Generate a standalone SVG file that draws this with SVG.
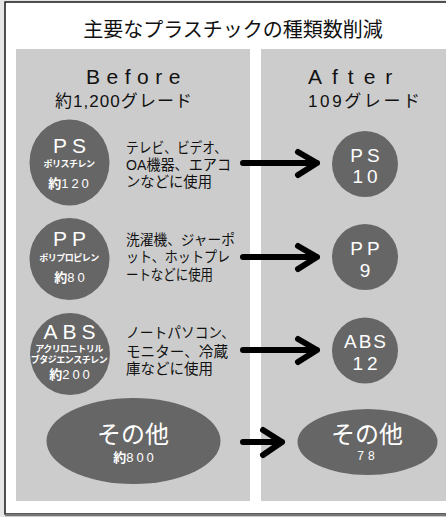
<svg xmlns="http://www.w3.org/2000/svg" width="446" height="517" viewBox="0 0 446 517">
<defs>
<style>
text{font-family:"Liberation Sans","Noto Sans CJK JP",sans-serif;}
.panel{fill:#cccccc;}
.node{fill:#666666;}
.w{fill:#ffffff;text-anchor:middle;}
.big{font-size:21px;letter-spacing:5px;}
.sm{font-size:9px;font-weight:bold;letter-spacing:-0.5px;}
.num{font-size:13px;letter-spacing:3px;}
.desc{font-size:14.5px;fill:#111111;}
.hd{font-size:21px;fill:#111111;}
.sub{font-size:17px;fill:#111111;}
.arr{fill:none;stroke:#000000;stroke-width:6;stroke-linecap:round;stroke-linejoin:round;}
</style>
</defs>
<rect x="0" y="0" width="446" height="517" fill="#e6e6e6"/>
<rect x="5" y="2" width="445" height="512" fill="#ffffff" stroke="#1a1a1a" stroke-width="1.5"/>
<line x1="5" y1="515" x2="446" y2="515" stroke="#777777" stroke-width="2.5"/>
<text x="233" y="37" font-size="20" fill="#111111" text-anchor="middle">主要なプラスチックの種類数削減</text>
<rect class="panel" x="16" y="49" width="234" height="452"/>
<rect class="panel" x="261" y="49" width="185" height="452"/>
<text class="hd" x="86" y="84" letter-spacing="6.5">Before</text>
<text class="sub" x="55" y="107" textLength="137" lengthAdjust="spacing">約1,200グレード</text>
<text class="hd" x="308" y="84" font-size="22" letter-spacing="10">After</text>
<text class="sub" x="308" y="107" textLength="112" lengthAdjust="spacing">109グレード</text>
<g id="connectors">
<path class="arr" d="M243 163H317M298 152L317 163L298 175"/>
<path class="arr" d="M243 257H317M298 246L317 257L298 269"/>
<path class="arr" d="M243 350H317M298 339L317 350L298 362"/>
<path class="arr" d="M243 442H282M263 430L282 442L263 455"/>
</g>
<g id="ps-before">
<ellipse class="node" cx="69.5" cy="162.5" rx="40" ry="43"/>
<text class="w big" x="72" y="153">PS</text>
<text class="w sm" x="69" y="167">ポリスチレン</text>
<text class="w num" x="70" y="188"><tspan font-weight="bold" letter-spacing="0">約</tspan>120</text>
</g>
<g id="ps-desc">
<text class="desc" x="126" y="153" textLength="101" lengthAdjust="spacingAndGlyphs">テレビ、ビデオ、</text>
<text class="desc" x="126" y="170" textLength="105" lengthAdjust="spacingAndGlyphs">OA機器、エアコ</text>
<text class="desc" x="126" y="187" textLength="86" lengthAdjust="spacingAndGlyphs">ンなどに使用</text>
</g>
<g id="pp-before">
<ellipse class="node" cx="69.5" cy="259" rx="40" ry="41"/>
<text class="w big" x="72" y="246">PP</text>
<text class="w sm" x="69" y="261">ポリプロピレン</text>
<text class="w num" x="71" y="282"><tspan font-weight="bold" letter-spacing="0">約</tspan>80</text>
</g>
<g id="pp-desc">
<text class="desc" x="126" y="245" textLength="109" lengthAdjust="spacingAndGlyphs">洗濯機、ジャーポ</text>
<text class="desc" x="126" y="262" textLength="104" lengthAdjust="spacingAndGlyphs">ット、ホットプレ</text>
<text class="desc" x="126" y="280" textLength="87" lengthAdjust="spacingAndGlyphs">ートなどに使用</text>
</g>
<g id="abs-before">
<ellipse class="node" cx="70" cy="354" rx="40" ry="41"/>
<text class="w big" x="72" y="339">ABS</text>
<text class="w sm" x="69" y="352">アクリロニトリル</text>
<text class="w sm" x="69" y="363">ブタジエンスチレン</text>
<text class="w num" x="71" y="379"><tspan font-weight="bold" letter-spacing="0">約</tspan>200</text>
</g>
<g id="abs-desc">
<text class="desc" x="126" y="338" textLength="109" lengthAdjust="spacingAndGlyphs">ノートパソコン、</text>
<text class="desc" x="126" y="357" textLength="102" lengthAdjust="spacingAndGlyphs">モニター、冷蔵</text>
<text class="desc" x="126" y="374" textLength="87" lengthAdjust="spacingAndGlyphs">庫などに使用</text>
</g>
<g id="other-before">
<ellipse class="node" cx="133.5" cy="441" rx="87" ry="43"/>
<text class="w" x="133" y="443" font-size="24">その他</text>
<text class="w num" x="135" y="462"><tspan font-weight="bold" letter-spacing="0">約</tspan>800</text>
</g>
<g id="ps-after">
<circle class="node" cx="365" cy="164" r="33"/>
<text class="w" x="367" y="162" font-size="19" letter-spacing="4">PS</text>
<text class="w" x="367" y="183" font-size="19" letter-spacing="4">10</text>
</g>
<g id="pp-after">
<circle class="node" cx="365" cy="257" r="33"/>
<text class="w" x="367" y="255" font-size="19" letter-spacing="4">PP</text>
<text class="w" x="365" y="277" font-size="19">9</text>
</g>
<g id="abs-after">
<circle class="node" cx="365" cy="350.5" r="33"/>
<text class="w" x="366" y="348" font-size="19" letter-spacing="2">ABS</text>
<text class="w" x="367" y="370" font-size="19" letter-spacing="4">12</text>
</g>
<g id="other-after">
<ellipse class="node" cx="367.5" cy="442" rx="70" ry="33"/>
<text class="w" x="367" y="443" font-size="24">その他</text>
<text class="w" x="368" y="460" font-size="12" letter-spacing="4">78</text>
</g>
</svg>
